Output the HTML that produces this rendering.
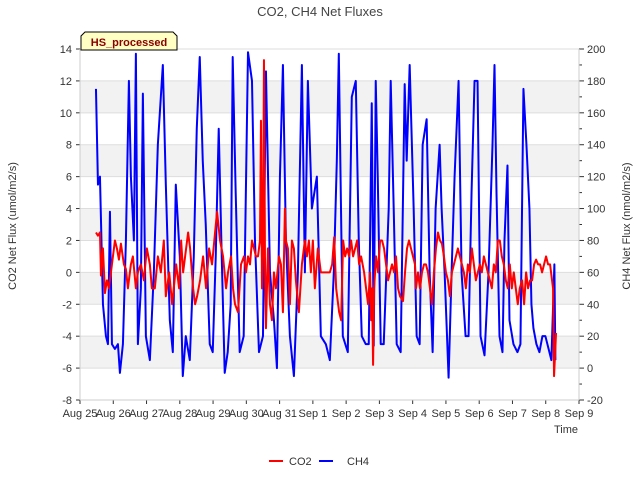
<!DOCTYPE html>
<html><head><meta charset="utf-8"><style>
body{margin:0;background:#fff;font-family:"Liberation Sans","DejaVu Sans",sans-serif}
svg text{font-family:"Liberation Sans","DejaVu Sans",sans-serif}
</style></head><body>
<svg id="c" width="640" height="480" viewBox="0 0 640 480">
<text x="320" y="16" text-anchor="middle" font-size="13" fill="#444">CO2, CH4 Net Fluxes</text>
<g id="bands"></g><g id="axes"></g>
<clipPath id="clip"><rect x="80" y="49" width="499" height="351"/></clipPath>
<g id="series" clip-path="url(#clip)"></g>
<g>
<path d="M81,50 L81,36 L85,32 L173,32 L177,36 L177,50 Z" fill="#ffffc4" stroke="#000" stroke-width="1"/>
<text x="129" y="46" text-anchor="middle" font-size="11" font-weight="bold" fill="#8b0000">HS_processed</text></g>
<text x="16" y="226" transform="rotate(-90 16 226)" text-anchor="middle" font-size="11" fill="#333">CO2 Net Flux (umol/m2/s)</text>
<text x="630" y="226" transform="rotate(-90 630 226)" text-anchor="middle" font-size="11" fill="#333">CH4 Net Flux (nmol/m2/s)</text>
<text x="578" y="433" text-anchor="end" font-size="11" fill="#333">Time</text>
<g>
<g><line x1="269" y1="461" x2="283" y2="461" stroke="#f00" stroke-width="2"/><text x="289" y="465" font-size="11" fill="#333">CO2</text></g>
<g><line x1="319" y1="461" x2="333" y2="461" stroke="#00f" stroke-width="2"/><text x="347" y="465" font-size="11" fill="#333">CH4</text></g>
</g>
</svg>
<script>
const xTickLabels=["Aug 25","Aug 26","Aug 27","Aug 28","Aug 29","Aug 30","Aug 31","Sep 1","Sep 2","Sep 3","Sep 4","Sep 5","Sep 6","Sep 7","Sep 8","Sep 9"];
const leftTicks=[-8,-6,-4,-2,0,2,4,6,8,10,12,14];
const rightTicks=[-20,0,20,40,60,80,100,120,140,160,180,200];
const ch4Days=[0.48,0.54,0.60,0.69,0.78,0.84,0.90,0.96,1.05,1.14,1.20,1.29,1.38,1.47,1.53,1.62,1.68,1.74,1.83,1.89,1.98,2.10,2.22,2.34,2.49,2.58,2.70,2.79,2.88,3.00,3.09,3.18,3.30,3.42,3.51,3.60,3.69,3.78,3.90,3.99,4.08,4.17,4.26,4.35,4.44,4.53,4.59,4.68,4.80,4.92,5.05,5.17,5.26,5.38,5.50,5.59,5.71,5.83,5.92,6.01,6.10,6.19,6.31,6.43,6.55,6.67,6.76,6.85,6.97,7.12,7.24,7.39,7.51,7.63,7.72,7.78,7.90,8.05,8.17,8.29,8.38,8.47,8.59,8.68,8.77,8.83,8.89,8.95,9.04,9.13,9.28,9.34,9.43,9.52,9.64,9.76,9.82,9.91,10.03,10.12,10.21,10.30,10.42,10.51,10.60,10.69,10.81,10.87,10.96,11.08,11.17,11.26,11.38,11.47,11.59,11.68,11.77,11.86,11.95,12.04,12.16,12.28,12.40,12.46,12.52,12.61,12.70,12.76,12.85,12.91,13.03,13.15,13.24,13.33,13.42,13.51,13.57,13.63,13.72,13.81,13.90,13.99,14.11,14.17,14.26,14.29];
const ch4Values=[175,115,120,40,20,15,98,15,12,15,-3,15,80,180,120,80,197,15,50,172,20,5,60,140,190,115,30,10,115,70,-5,20,5,70,150,195,130,90,15,10,70,150,70,-3,10,40,195,110,10,20,198,180,80,10,20,186,60,30,0,120,190,80,20,-5,60,190,60,180,100,120,20,15,5,60,130,197,20,10,170,180,80,20,15,15,166,14,180,120,15,15,100,180,100,15,10,178,130,190,100,20,15,140,156,60,10,100,140,100,60,-6,60,120,180,60,20,20,110,180,180,20,8,60,140,190,110,20,10,80,127,30,15,10,15,175,140,100,40,25,15,10,20,20,10,5,65,5];
const co2Days=[0.48,0.54,0.60,0.63,0.69,0.75,0.81,0.87,0.96,1.05,1.11,1.17,1.23,1.32,1.38,1.44,1.53,1.59,1.68,1.74,1.83,1.92,2.01,2.10,2.16,2.25,2.34,2.43,2.52,2.58,2.68,2.77,2.89,2.98,3.04,3.10,3.19,3.25,3.31,3.40,3.46,3.52,3.61,3.70,3.79,3.88,3.97,4.06,4.12,4.21,4.30,4.39,4.45,4.54,4.60,4.66,4.75,4.84,4.93,4.99,5.05,5.11,5.17,5.23,5.29,5.35,5.41,5.44,5.47,5.50,5.53,5.56,5.59,5.65,5.71,5.77,5.83,5.89,5.98,6.04,6.10,6.16,6.19,6.25,6.31,6.37,6.43,6.49,6.58,6.67,6.76,6.82,6.88,6.94,7.00,7.06,7.15,7.24,7.33,7.42,7.51,7.58,7.64,7.70,7.79,7.85,7.91,7.97,8.03,8.09,8.15,8.21,8.27,8.33,8.39,8.45,8.54,8.60,8.66,8.72,8.75,8.78,8.81,8.84,8.90,8.96,9.02,9.08,9.14,9.20,9.26,9.32,9.38,9.44,9.50,9.56,9.62,9.71,9.77,9.83,9.89,9.95,10.01,10.07,10.10,10.16,10.22,10.28,10.34,10.40,10.46,10.52,10.58,10.64,10.70,10.76,10.82,10.88,10.94,11.00,11.06,11.12,11.18,11.24,11.30,11.36,11.42,11.48,11.54,11.60,11.66,11.72,11.78,11.84,11.90,11.96,12.02,12.08,12.14,12.20,12.26,12.32,12.38,12.44,12.50,12.56,12.62,12.68,12.74,12.80,12.86,12.92,12.98,13.04,13.10,13.16,13.22,13.29,13.35,13.41,13.47,13.53,13.59,13.65,13.71,13.77,13.83,13.89,13.95,14.01,14.07,14.13,14.19,14.22,14.25,14.31];
const co2Values=[2.5,2.3,2.5,-0.2,1.5,-1.3,-0.5,-1,0.5,2,1.5,0.8,1.8,0.5,0.2,-1,0.5,1,-1,0,0.5,-0.5,1.5,0.5,-1,-1,1,0,2,-1.5,0,-2,0.5,-1,2,0,1.5,2.5,1.5,-1,-2,-1.5,-0.5,1,-1,1.5,0.5,2.5,3.8,2,1,-1,0,1,-1,-2,-2.5,0.5,1,0,1,0.5,2,1.5,1,1,2,9.5,-1,1,13.3,1,-3.5,1.5,-2,-3,0,-1,1,0.5,-2.5,4,2,1.5,-2,2,1.5,-0.5,-2.5,0.5,2,1,2,0,2,-1,1.5,0,0,0,0,0.5,2.2,-1,-2.5,-3,2,1,1.5,1,2,1,1.5,2,0.5,1,0,-1,-2,0,-3,-1,-5.8,-1,1,0,2,2,1.5,0.5,-0.5,0,0.5,0,1,-1,-1.5,-1.8,0,1.5,2,1.5,1,0.5,-1,0,-1,0,0.5,0.5,0,-1,-2,0,1.5,2.5,2,1.8,1,0,-0.5,-1.5,0,0.5,1,1.5,1,0.5,0,-1,0.5,0,1.5,0.5,-0.5,0,0.5,0,1,0.5,0,-0.5,-1,0.5,0,2,2,1,0.5,-0.5,-1,0.5,-1,0,-1,-2,-1,-0.5,-2,0,-1,-0.5,-0.5,0.5,0.8,0.5,0.5,0,0.5,1,0.5,0.5,-0.5,-1,-6.5,-3.8];

const NS="http://www.w3.org/2000/svg";
const L=80,R=579,T=49,B=400;
const xS=d=>L+d*(R-L)/15;
const yL=v=>B-(v+8)*(B-T)/22;
const yR=v=>B-(v+20)*(B-T)/220;
function mk(tag,attrs,parent){const e=document.createElementNS(NS,tag);for(const k in attrs)e.setAttribute(k,attrs[k]);parent.appendChild(e);return e;}
const bands=document.getElementById('bands'),axes=document.getElementById('axes'),series=document.getElementById('series');
mk('rect',{x:L,y:T,width:R-L,height:B-T,fill:'#fff'},bands);
[10,6,2,-2,-6].forEach(v=>{const r=mk('rect',{x:L,y:yL(v+2),width:R-L,height:yL(v)-yL(v+2),fill:'#f2f2f2'},bands);

});
leftTicks.forEach(v=>{const l=mk('line',{x1:L,x2:R,y1:yL(v),y2:yL(v),stroke:'#ddd','stroke-width':1},bands);


mk('line',{x1:L-4,x2:L,y1:yL(v),y2:yL(v),stroke:'#333'},axes);
const t=mk('text',{x:L-8,y:yL(v)+4,'text-anchor':'end','font-size':11,fill:'#333'},axes);t.textContent=v;

});
rightTicks.forEach(v=>{mk('line',{x1:R,x2:R+5,y1:yR(v),y2:yR(v),stroke:'#333'},axes);
if(v<200)mk('line',{x1:R,x2:R+3,y1:yR(v+10),y2:yR(v+10),stroke:'#333'},axes);
const t=mk('text',{x:R+8,y:yR(v)+4,'font-size':11,fill:'#333'},axes);t.textContent=v;

});
xTickLabels.forEach((s,i)=>{mk('line',{x1:xS(i),x2:xS(i),y1:B,y2:B+4,stroke:'#333'},axes);
const t=mk('text',{x:xS(i),y:B+17,'text-anchor':'middle','font-size':11,fill:'#333'},axes);t.textContent=s;

});
mk('line',{x1:L,x2:L,y1:T,y2:B,stroke:'#ccc'},axes);mk('line',{x1:R,x2:R,y1:T,y2:B,stroke:'#ccc'},axes);
mk('line',{x1:L,x2:R,y1:B,y2:B,stroke:'#ccc'},axes);
const pCh4=mk('polyline',{points:ch4Days.map((d,i)=>xS(d)+','+yR(ch4Values[i])).join(' '),fill:'none',stroke:'#00f','stroke-width':2,'stroke-linejoin':'round'},series);


const pCo2=mk('polyline',{points:co2Days.map((d,i)=>xS(d)+','+yL(co2Values[i])).join(' '),fill:'none',stroke:'#f00','stroke-width':2,'stroke-linejoin':'round'},series);


</script>
</body></html>
